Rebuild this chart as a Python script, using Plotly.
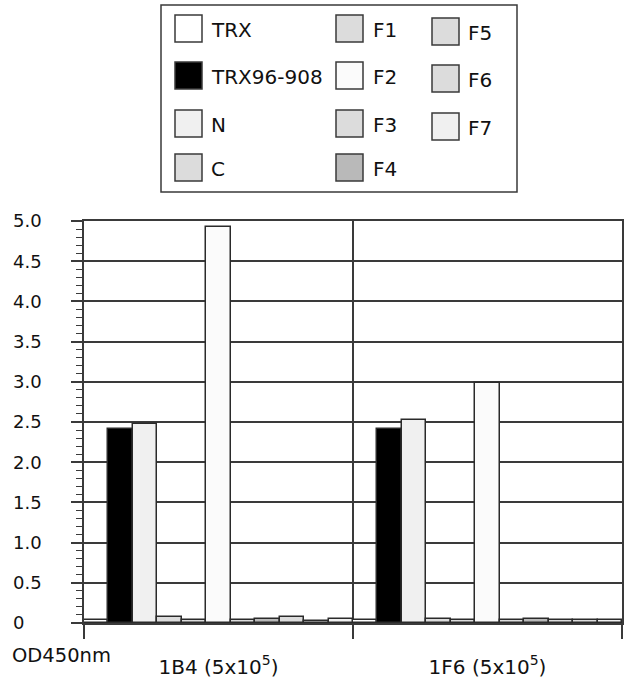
import plotly.graph_objects as go

# ---------------- data ----------------
categories = ["1B4 (5x10<sup>5</sup>)", "1F6 (5x10<sup>5</sup>)"]
series_names = ["TRX", "TRX96-908", "N", "C", "F1", "F2", "F3", "F4", "F5", "F6", "F7"]
series_colors = ["#ffffff", "#000000", "#f0f0f0", "#dcdcdc", "#dcdcdc", "#fbfbfb",
                 "#dcdcdc", "#b9b9b9", "#dcdcdc", "#dcdcdc", "#f0f0f0"]
TRX = [0.04, 0.04]
TRX96_908 = [2.41, 2.41]
N = [2.48, 2.53]
C = [0.07, 0.055]
F1 = [0.04, 0.04]
F2 = [4.93, 2.98]
F3 = [0.04, 0.04]
F4 = [0.05, 0.055]
F5 = [0.07, 0.04]
F6 = [0.03, 0.04]
F7 = [0.05, 0.04]
series_values = [TRX, TRX96_908, N, C, F1, F2, F3, F4, F5, F6, F7]
y_tickvals = [0, 0.5, 1.0, 1.5, 2.0, 2.5, 3.0, 3.5, 4.0, 4.5, 5.0]
y_ticktext = ["0\u2008\u2007", "0.5", "1.0", "1.5", "2.0", "2.5", "3.0", "3.5", "4.0", "4.5", "5.0"]
y_title = "OD450nm"

# ---------------- layout constants ----------------
W, H = 625, 683
SL, SR, ST, SB = 84, 622, 221, 623   # plot box in screen pixels
L, T = SL, ST
R, B = W - SR, H - SB
PW, PH = W - L - R, H - T - B
FONT = "DejaVu Sans"
LINE = "#3a3a3a"


def px(x):
    return (x - L) / PW


def py(y):
    return (H - B - y) / PH


fig = go.Figure()
for name, color, vals in zip(series_names, series_colors, series_values):
    fig.add_trace(go.Bar(
        x=categories, y=vals, name=name, showlegend=False,
        marker=dict(color=color, line=dict(color="#2a2a2a", width=1.5)),
    ))

fig.update_layout(
    width=W, height=H,
    margin=dict(l=L, r=R, t=T, b=B, pad=0, autoexpand=False),
    paper_bgcolor="white", plot_bgcolor="white",
    barmode="group", bargap=0, bargroupgap=0,
    font=dict(family=FONT, size=18, color="#111111"),
    xaxis=dict(
        type="category", tickson="boundaries", ticks="outside", ticklen=14,
        tickwidth=1.5, tickcolor=LINE, showgrid=True, gridcolor=LINE, gridwidth=1.5,
        showline=True, linecolor=LINE, linewidth=1.5, mirror=True, automargin=False,
        tickfont=dict(family=FONT, size=20), ticklabelstandoff=25,
    ),
    yaxis=dict(
        range=[0, 5], tickvals=y_tickvals, ticktext=y_ticktext, automargin=False,
        ticks="outside", ticklen=11, tickwidth=1.5, tickcolor=LINE,
        showgrid=True, gridcolor=LINE, gridwidth=1.5, zeroline=False,
        showline=True, linecolor=LINE, linewidth=1.5, mirror=True,
        minor=dict(dtick=0.1, ticks="outside", ticklen=6, tickwidth=1, tickcolor=LINE, showgrid=False),
        tickfont=dict(family=FONT, size=18), ticklabelstandoff=26,
    ),
)

# y-axis title placed below the axis (as in the original)
fig.add_annotation(text=y_title, xref="paper", yref="paper", x=px(10), y=py(655),
                   xanchor="left", yanchor="middle", showarrow=False,
                   font=dict(family=FONT, size=19.5))

# ---------------- manual legend (3 columns, column-major) ----------------
shapes = [dict(type="rect", xref="paper", yref="paper", x0=px(161), x1=px(517),
               y0=py(192), y1=py(5), line=dict(color=LINE, width=1.5), fillcolor="white", layer="above")]
col_swatch_x = [175, 336, 432]
col_text_x = [209, 371, 466]
col_dy = [0, 0, 3]
row_top = [15, 62, 110, 154]
rows_per_col = 4
for i, (name, color) in enumerate(zip(series_names, series_colors)):
    c, r = divmod(i, rows_per_col)
    y0 = row_top[r] + col_dy[c]
    shapes.append(dict(type="rect", xref="paper", yref="paper",
                       x0=px(col_swatch_x[c]), x1=px(col_swatch_x[c] + 27),
                       y0=py(y0 + 27), y1=py(y0), fillcolor=color,
                       line=dict(color=LINE, width=1.5), layer="above"))
    fig.add_annotation(text=name, xref="paper", yref="paper", x=px(col_text_x[c]),
                       y=py(y0 + 15), xanchor="left", yanchor="middle", showarrow=False,
                       font=dict(family=FONT, size=20))
fig.update_layout(shapes=shapes)

fig.write_html("out.html", config={"displayModeBar": False},
               post_script="document.body.style.margin='0';document.body.style.overflow='hidden';")
